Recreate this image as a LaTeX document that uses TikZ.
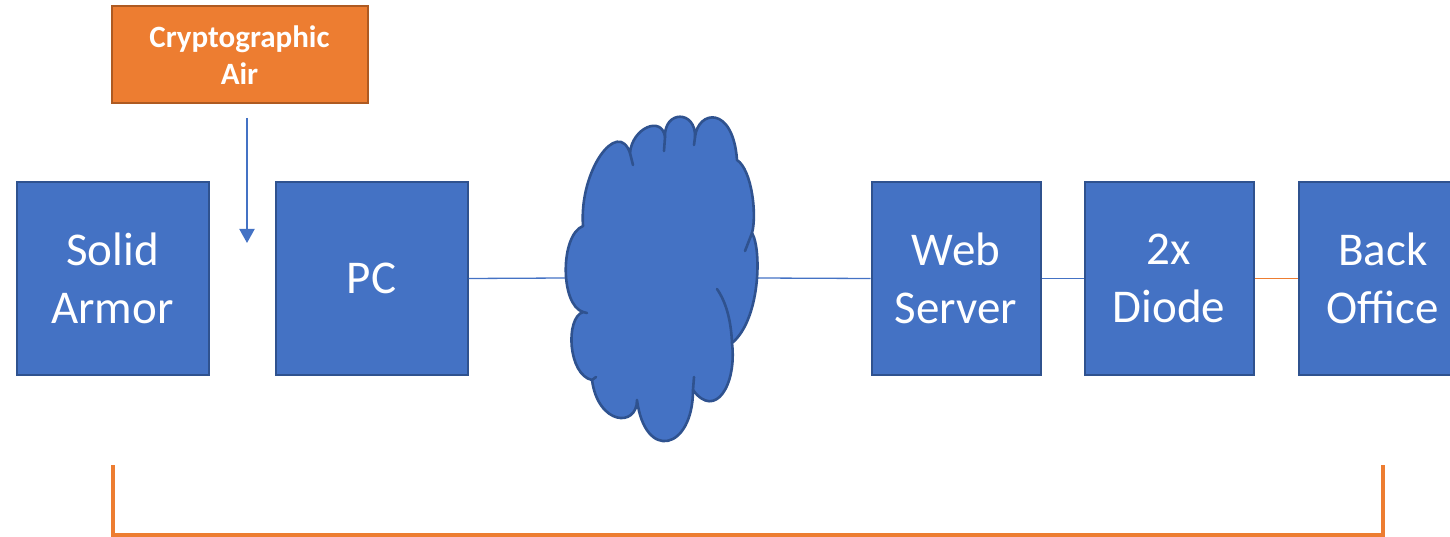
\documentclass[tikz,border=0pt]{standalone}
\usepackage{fontspec}
\setmainfont{Carlito}
\usetikzlibrary{arrows.meta}
\definecolor{boxblue}{HTML}{4472C4}
\definecolor{edgeblue}{HTML}{2F528F}
\definecolor{boxorange}{HTML}{ED7D31}
\definecolor{edgeorange}{HTML}{AE5A21}
\begin{document}
\begin{tikzpicture}[x=1pt,y=-1pt,
  block/.style={draw=edgeblue,line width=2pt,fill=boxblue,text=white,
    minimum height=192pt,align=center,inner sep=0pt,
    font=\fontsize{47}{58}\selectfont},
  keybox/.style={draw=edgeorange,line width=2pt,fill=boxorange,text=white,
    minimum width=256pt,minimum height=97pt,align=center,inner sep=0pt,
    font=\fontsize{31}{37}\selectfont\bfseries},
  bluelink/.style={draw=boxblue,line width=1.3pt},
  orangelink/.style={draw=boxorange,line width=1.3pt},
  bracket/.style={draw=boxorange,line width=3.5pt},
  feed/.style={draw=boxblue,line width=2pt,-{Triangle[length=14pt,width=15pt]}},
  cloudfill/.style={fill=boxblue,draw=edgeblue,line width=2.6pt,line join=round},
  cloudseam/.style={draw=edgeblue,line width=2.6pt,line cap=round}]
\useasboundingbox (0,0) rectangle (1450,537);
\clip (0,0) rectangle (1450,537);

% network components
\node[block,minimum width=192pt] (armor) at (112.5,278.5) {Solid\\Armor};
\node[block,minimum width=192pt] (pc) at (371.5,278.5) {PC};
\node[block,minimum width=169pt] (web) at (956,278.5) {Web\\Server};
\node[block,minimum width=169pt] (diode) at (1169,278.5) {2x\\Diode};
\node[block,minimum width=169pt] (office) at (1383,278.5) {Back\\Office};

% crypto air gap label and its arrow into the gap
\node[keybox] (crypto) at (239.5,55) {Cryptographic\\Air};
\coordinate (gaptop) at (247,118);
\coordinate (gapend) at (247,243);
\draw[feed] (gaptop) -- (gapend);

% internet cloud
\coordinate (cloudW) at (565,278);
\coordinate (cloudE) at (758,278);
\draw[bluelink] (pc.east) -- (cloudW);
\draw[bluelink] (cloudE) -- (web.west);
\path[cloudfill]
  (583,226) .. controls (579,170) and (618,118) .. (630,153)
  .. controls (632,128) and (662,115) .. (665,137)
  .. controls (664,110) and (696,110) .. (695,137)
  .. controls (698,110) and (733,105) .. (737,160)
  .. controls (752,170) and (757,215) .. (752,233)
  .. controls (762,250) and (760,320) .. (732,343)
  .. controls (737,385) and (715,420) .. (693,390)
  .. controls (693,450) and (645,462) .. (637,400)
  .. controls (637,428) and (598,425) .. (592,380)
  .. controls (568,375) and (565,318) .. (583,312)
  .. controls (560,305) and (560,235) .. (583,226) -- cycle;
% inner seams of the cloud lobes
\draw[cloudseam] (630,153) -- (633,165);
\draw[cloudseam] (665,137) -- (664,151);
\draw[cloudseam] (695,137) -- (694,145);
\draw[cloudseam] (752,233) -- (745,251);
\draw[cloudseam] (717,289) .. controls (726,302) and (731,320) .. (732,343);
\draw[cloudseam] (693,390) -- (694,377);
\draw[cloudseam] (592,380) -- (596,377);
\draw[cloudseam] (583,312) -- (587,313);

% remaining links
\draw[bluelink] (web.east) -- (diode.west);
\draw[orangelink] (diode.east) -- (office.west);

% bracket underneath
\coordinate (brL) at (113,465);
\coordinate (brR) at (1383,465);
\draw[bracket] (brL) -- (113,535) -- (1383,535) -- (brR);
\end{tikzpicture}
\end{document}
